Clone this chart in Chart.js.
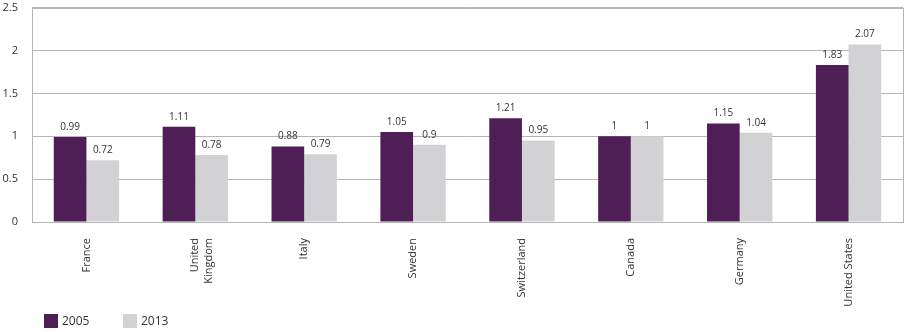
<!DOCTYPE html>
<html>
<head>
<meta charset="utf-8">
<script src="https://cdn.jsdelivr.net/npm/chart.js@4"></script>
<style>
  html, body { margin: 0; padding: 0; background: #fff; overflow: hidden; }
  #frame { width: 907px; height: 332px; overflow: hidden; position: relative; }
  #wrap { width: 907px; height: 345px; position: absolute; left: 0; top: -13px; }
</style>
</head>
<body>
<div id="frame"><div id="wrap"><canvas id="chart"></canvas></div></div>
<script>
// Chart data
const countries = ['France', ['United', 'Kingdom'], 'Italy', 'Sweden', 'Switzerland', 'Canada', 'Germany', 'United States'];
const values2005 = [0.99, 1.11, 0.88, 1.05, 1.21, 1, 1.15, 1.83];
const values2013 = [0.72, 0.78, 0.79, 0.9, 0.95, 1, 1.04, 2.07];
const seriesNames = ['2005', '2013'];
const yTicks = [0, 0.5, 1, 1.5, 2, 2.5];

const purple = '#4f1e56';
const grey = '#d2d2d4';
const textColor = '#333333';
const fontFamily = '"Open Sans", sans-serif';

// Value labels above each bar
const valueLabels = {
    id: 'valueLabels',
    afterDatasetsDraw(chart) {
        const ctx = chart.ctx;
        ctx.save();
        ctx.font = '10px ' + fontFamily;
        ctx.fillStyle = textColor;
        ctx.textAlign = 'center';
        ctx.textBaseline = 'bottom';
        chart.data.datasets.forEach((ds, i) => {
            chart.getDatasetMeta(i).data.forEach((bar, j) => {
                ctx.fillText(String(ds.data[j]), bar.x, bar.y - 5);
            });
        });
        ctx.restore();
    }
};

// Box round the plot area and a simple legend at the bottom left
const frameAndLegend = {
    id: 'frameAndLegend',
    afterDraw(chart) {
        const ctx = chart.ctx;
        const a = chart.chartArea;
        ctx.save();
        ctx.strokeStyle = '#b5b5b5';
        ctx.lineWidth = 1;
        ctx.strokeRect(Math.round(a.left) + 0.5, Math.round(a.top) + 0.5,
            Math.round(a.right - a.left), Math.round(a.bottom - a.top));

        ctx.font = '12px ' + fontFamily;
        ctx.textBaseline = 'middle';
        ctx.textAlign = 'left';
        let x = 44;
        const y = a.bottom + 92;
        chart.data.datasets.forEach(ds => {
            ctx.fillStyle = ds.backgroundColor;
            ctx.fillRect(x, y, 14, 14);
            ctx.fillStyle = textColor;
            ctx.fillText(ds.label, x + 18, y + 8);
            x += 79;
        });
        ctx.restore();
    }
};

new Chart(document.getElementById('chart'), {
    type: 'bar',
    data: {
        labels: countries,
        datasets: [
            { label: seriesNames[0], data: values2005, backgroundColor: purple },
            { label: seriesNames[1], data: values2013, backgroundColor: grey }
        ]
    },
    options: {
        responsive: true,
        maintainAspectRatio: false,
        animation: false,
        layout: { padding: { top: 0, right: 4, left: 0, bottom: 0 } },
        datasets: {
            bar: { categoryPercentage: 0.6, barPercentage: 1 }
        },
        plugins: {
            legend: { display: false },
            tooltip: { enabled: false }
        },
        scales: {
            x: {
                grid: { display: false },
                border: { display: false },
                ticks: {
                    color: textColor,
                    font: { family: fontFamily, size: 11 },
                    maxRotation: 90,
                    minRotation: 90,
                    padding: 8
                },
                afterFit(scale) { scale.height = 110; }
            },
            y: {
                min: 0,
                max: 2.5,
                afterBuildTicks(scale) { scale.ticks = yTicks.map(v => ({ value: v })); },
                grid: { color: '#b5b5b5', drawTicks: false },
                border: { display: false },
                ticks: {
                    color: textColor,
                    font: { family: fontFamily, size: 11 },
                    padding: 14,
                    callback: v => String(v)
                },
                afterFit(scale) { scale.width = 32; }
            }
        }
    },
    plugins: [valueLabels, frameAndLegend]
});
</script>
</body>
</html>
